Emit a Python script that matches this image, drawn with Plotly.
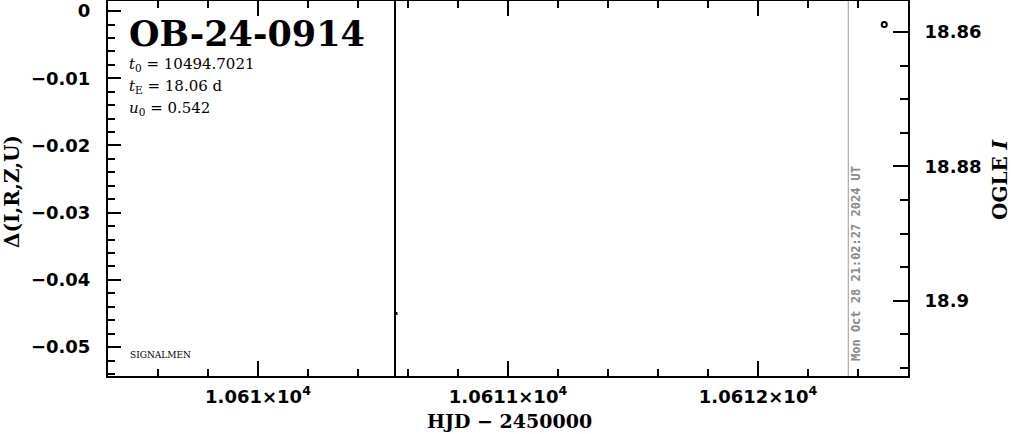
import plotly.graph_objects as go

# ---- data ----
event_name = "OB-24-0914"
t0_text = "10494.7021"
tE_text = "18.06"
u0_text = "0.542"
date_stamp = "Mon Oct 28 21:02:27 2024 UT"

ogle_hjd = [10612.505]
ogle_mag = [18.8589]

resid_hjd = [10610.552]
resid_delta = [-0.0450]

marker_line_hjd = 10610.548
date_line_hjd = 10612.361

x_range = [10609.4, 10612.6]
x_ticks = [10610, 10611, 10612]
x_ticktext = ["1.061×10<sup>4</sup>", "1.0611×10<sup>4</sup>", "1.0612×10<sup>4</sup>"]

y_range = [-0.0543, 0.0015]
y_ticks = [0, -0.01, -0.02, -0.03, -0.04, -0.05]
y_ticktext = ["0", "−0.01", "−0.02", "−0.03", "−0.04", "−0.05"]

y2_range = [18.9112, 18.8554]
y2_ticks = [18.86, 18.88, 18.90]
y2_ticktext = ["18.86", "18.88", "18.9"]

W, H = 1011, 434
L, R, T, B = 108, 103, 1, 58

TICKFONT = dict(family="DejaVu Sans", size=18, color="black", weight="bold")
SERIF = "DejaVu Serif"

fig = go.Figure()

fig.add_trace(go.Scatter(
    x=resid_hjd, y=resid_delta, mode="markers",
    marker=dict(symbol="square", size=3, color="black"),
    showlegend=False, yaxis="y", hoverinfo="skip"))

fig.add_trace(go.Scatter(
    x=ogle_hjd, y=ogle_mag, mode="markers",
    marker=dict(symbol="circle-open", size=5, color="black", line=dict(width=2, color="black")),
    showlegend=False, yaxis="y2"))

fig.add_shape(type="line", xref="x", yref="paper", x0=marker_line_hjd, x1=marker_line_hjd,
              y0=0, y1=1, line=dict(color="black", width=2))
fig.add_shape(type="line", xref="x", yref="paper", x0=date_line_hjd, x1=date_line_hjd,
              y0=0, y1=1, line=dict(color="#999999", width=1))

axis_common = dict(showgrid=False, zeroline=False, showline=True, linecolor="black",
                   linewidth=2, ticks="inside", tickcolor="black", tickwidth=2,
                   automargin=False)

fig.update_layout(
    width=W, height=H,
    margin=dict(l=L, r=R, t=T, b=B, autoexpand=False),
    paper_bgcolor="white", plot_bgcolor="white",
    xaxis=dict(range=x_range, tickvals=x_ticks, ticktext=x_ticktext, ticklen=15,
               tickfont=TICKFONT, mirror="ticks", ticklabelstandoff=3,
               minor=dict(dtick=0.2, tick0=10610, ticks="inside", ticklen=7,
                          tickwidth=2, tickcolor="black"),
               **axis_common),
    yaxis=dict(range=y_range, tickvals=y_ticks, ticktext=y_ticktext, ticklen=13,
               tickfont=TICKFONT, ticklabelstandoff=12,
               minor=dict(dtick=0.002, tick0=0, ticks="inside", ticklen=7,
                          tickwidth=2, tickcolor="black"),
               **axis_common),
    yaxis2=dict(range=y2_range, overlaying="y", side="right", tickvals=y2_ticks,
                ticktext=y2_ticktext, ticklen=15, tickfont=TICKFONT, ticklabelstandoff=11,
                minor=dict(dtick=0.005, tick0=18.86, ticks="inside", ticklen=8,
                           tickwidth=2, tickcolor="black"),
                **axis_common),
)

pw, ph = W - L - R, H - T - B

def add_text(text, px, py, **kw):
    fig.add_annotation(x=(px - L) / pw, y=1 - (py - T) / ph, xref="paper", yref="paper",
                       showarrow=False, text=text, **kw)

add_text(event_name, 127, 33, xanchor="left", yanchor="middle",
         font=dict(family=SERIF, size=35, color="black", weight="bold"))
add_text("<i>t</i><sub>0</sub> = " + t0_text, 127, 64, xanchor="left", yanchor="middle",
         font=dict(family=SERIF, size=15, color="black"))
add_text("<i>t</i><sub>E</sub> = " + tE_text + " d", 127, 86, xanchor="left", yanchor="middle",
         font=dict(family=SERIF, size=15, color="black"))
add_text("<i>u</i><sub>0</sub> = " + u0_text, 127, 108, xanchor="left", yanchor="middle",
         font=dict(family=SERIF, size=15, color="black"))
add_text("SIGNALMEN", 128, 355, xanchor="left", yanchor="middle",
         font=dict(family=SERIF, size=9, color="black"))
add_text(date_stamp, 856, 264, xanchor="center", yanchor="middle", textangle=-90,
         font=dict(family="DejaVu Sans Mono", size=12, color="#888888", weight="bold"))
add_text("HJD − 2450000", 510, 421, xanchor="center", yanchor="middle",
         font=dict(family=SERIF, size=19, color="black", weight="bold"))
add_text("Δ(I,R,Z,U)", 12, 192, xanchor="center", yanchor="middle", textangle=-90,
         font=dict(family=SERIF, size=20, color="black", weight="bold"))
add_text("OGLE <i>I</i>", 1000, 180, xanchor="center", yanchor="middle", textangle=-90,
         font=dict(family=SERIF, size=20, color="black", weight="bold"))

fig.write_html("out.html", config={"displayModeBar": False},
               post_script="document.body.style.margin='0';document.body.style.padding='0';")
